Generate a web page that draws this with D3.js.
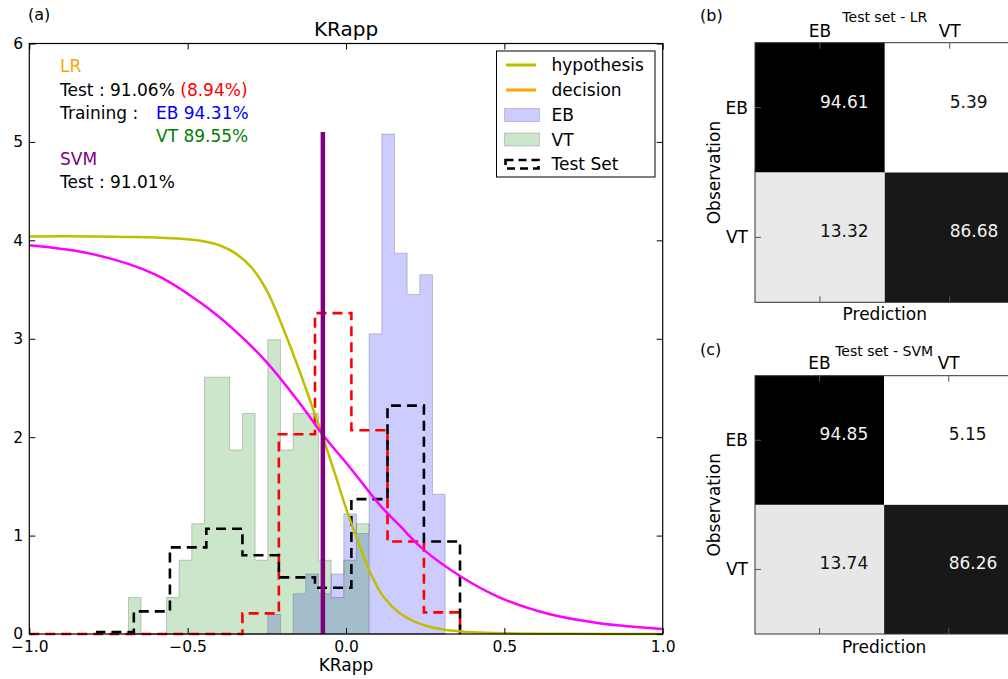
<!DOCTYPE html>
<html><head><meta charset="utf-8">
<script src="https://cdn.jsdelivr.net/npm/d3@7"></script>
<style>body{margin:0;background:#fff} svg{display:block} text{font-family:"DejaVu Sans",sans-serif}</style>
</head><body><svg id="c" width="1008" height="679"></svg>
<script>
// ---------- data ----------
const histEdges = [-0.687,-0.647,-0.607,-0.567,-0.527,-0.487,-0.447,-0.407,-0.367,-0.327,-0.287,-0.247,-0.207,-0.167,-0.127,-0.087,-0.047,-0.007,0.033,0.073,0.113,0.153,0.193,0.233,0.273,0.313];
const ebDensity = [0,0,0,0,0,0,0,0,0,0,0,0.20,0,0.41,0.61,0.41,0.61,1.22,1.02,3.05,5.08,3.87,3.45,3.65,1.42];
const vtDensity = [0.37,0,0,0.37,0.75,1.12,2.61,2.61,1.87,2.24,0.75,2.99,1.87,2.24,2.24,0.75,0.37,0.75,1.12,0,0,0,0,0,0];
const testEdges = [-0.785,-0.670,-0.556,-0.441,-0.327,-0.212,-0.098,0.017,0.131,0.246,0.360];
const testSetDensity = [0.02,0.23,0.88,1.07,0.80,0.575,0.47,1.37,2.32,0.94];
const testRedDensity = [0,0,0,0,0.21,2.03,3.26,2.07,0.94,0.22];
const redStartX = -1.0;
const hypX = [-1.0,-0.8,-0.7,-0.6,-0.5,-0.45,-0.4,-0.35,-0.3,-0.25,-0.2,-0.15,-0.1,-0.073,-0.04,0.0,0.04,0.08,0.12,0.17,0.22,0.28,0.38,0.5,0.7,1.0];
const hypY = [4.04,4.04,4.035,4.03,4.01,3.99,3.95,3.87,3.73,3.49,3.12,2.70,2.25,2.0,1.68,1.28,0.92,0.60,0.37,0.21,0.12,0.06,0.02,0.008,0.002,0.0];
const svmX = [-1.0,-0.8,-0.6,-0.461,-0.35,-0.25,-0.145,-0.072,0.013,0.107,0.17,0.244,0.36,0.486,0.644,0.8,1.0];
const svmY = [3.95,3.86,3.65,3.37,3.08,2.76,2.34,2.02,1.69,1.31,1.10,0.86,0.59,0.37,0.20,0.11,0.05];
const svmThreshold = -0.073, svmLineTop = 5.1;
const decisionX = -0.073, decisionTop = 5.1;
const xTicks = [-1,-0.5,0,0.5,1];
const yTicks = [0,1,2,3,4,5,6];
const legendLabels = ["hypothesis","decision","EB","VT","Test Set"];
const classes = ["EB","VT"];
const lrMatrix = [[94.61,5.39],[13.32,86.68]];
const svmMatrix = [[94.85,5.15],[13.74,86.26]];

// ---------- main chart ----------
const svg = d3.select("#c");
const X0=29.3, X1=662.7, Y0=634, Y1=43.5;
const x = d3.scaleLinear([-1,1],[X0,X1]);
const y = d3.scaleLinear([0,6],[Y0,Y1]);
const g = svg.append("g");

function stepPts(edges, vals, startX){
  const pts=[];
  if(startX!==undefined) pts.push([startX,0]);
  pts.push([edges[0],0]);
  vals.forEach((v,i)=>{pts.push([edges[i],v]);pts.push([edges[i+1],v]);});
  pts.push([edges[edges.length-1],0]);
  return pts;
}
const line = d3.line().x(d=>x(d[0])).y(d=>y(d[1]));

g.append("path").attr("d",line(stepPts(histEdges,ebDensity))+"Z")
 .attr("fill","rgba(0,0,255,0.2)").attr("stroke","rgba(0,0,0,0.2)").attr("stroke-width",1);
g.append("path").attr("d",line(stepPts(histEdges,vtDensity))+"Z")
 .attr("fill","rgba(0,128,0,0.2)").attr("stroke","rgba(0,0,0,0.2)").attr("stroke-width",1);

g.append("path").attr("d",line(stepPts(testEdges,testRedDensity,redStartX)))
 .attr("fill","none").attr("stroke","#ff0000").attr("stroke-width",2.6).attr("stroke-dasharray","10,6");
g.append("path").attr("d",line(stepPts(testEdges,testSetDensity)))
 .attr("fill","none").attr("stroke","#000").attr("stroke-width",2.6).attr("stroke-dasharray","10,6");

const curve = d3.line().x(d=>x(d[0])).y(d=>y(d[1])).curve(d3.curveCatmullRom.alpha(0.5));
g.append("path").attr("d",curve(hypX.map((v,i)=>[v,hypY[i]])))
 .attr("fill","none").attr("stroke","#bfbf00").attr("stroke-width",2.5);
g.append("path").attr("d",curve(svmX.map((v,i)=>[v,svmY[i]])))
 .attr("fill","none").attr("stroke","#ff00ff").attr("stroke-width",2.5);
g.append("line").attr("x1",x(decisionX)).attr("x2",x(decisionX)).attr("y1",y(0)).attr("y2",y(decisionTop))
 .attr("stroke","orange").attr("stroke-width",3);
g.append("line").attr("x1",x(svmThreshold)).attr("x2",x(svmThreshold)).attr("y1",y(0)).attr("y2",y(svmLineTop))
 .attr("stroke","#800080").attr("stroke-width",4.5);

// axes
function styleAxis(sel){sel.select(".domain").remove();sel.selectAll("line").attr("stroke","#000");sel.selectAll("text").attr("font-family","DejaVu Sans").attr("fill","#000");}
svg.append("g").attr("transform",`translate(0,${Y0})`)
  .call(d3.axisBottom(x).tickValues(xTicks).tickFormat(d3.format(".1f")).tickSizeInner(-6).tickSizeOuter(0).tickPadding(7))
  .call(styleAxis).selectAll("text").attr("font-size",15.5);
svg.append("g").attr("transform",`translate(0,${Y1})`)
  .call(d3.axisTop(x).tickValues(xTicks).tickFormat("").tickSizeInner(-6).tickSizeOuter(0)).call(styleAxis);
svg.append("g").attr("transform",`translate(${X0},0)`)
  .call(d3.axisLeft(y).tickValues(yTicks).tickFormat(d3.format("d")).tickSizeInner(-6).tickSizeOuter(0).tickPadding(6.3))
  .call(styleAxis).selectAll("text").attr("font-size",15.5);
svg.append("g").attr("transform",`translate(${X1},0)`)
  .call(d3.axisRight(y).tickValues(yTicks).tickFormat("").tickSizeInner(-6).tickSizeOuter(0)).call(styleAxis);
svg.append("rect").attr("x",X0).attr("y",Y1).attr("width",X1-X0).attr("height",Y0-Y1)
  .attr("fill","none").attr("stroke","#000").attr("stroke-width",1.2);

svg.append("text").attr("x",(X0+X1)/2).attr("y",36).attr("text-anchor","middle").attr("font-size",20).text("KRapp");
svg.append("text").attr("x",(X0+X1)/2).attr("y",671).attr("text-anchor","middle").attr("font-size",17).text("KRapp");
svg.append("text").attr("x",28).attr("y",20).attr("font-size",16).text("(a)");

// annotations
const ann = svg.append("g").attr("font-size",17);
ann.append("text").attr("x",60).attr("y",72).attr("fill","#ffa500").text("LR");
const t1 = ann.append("text").attr("x",60).attr("y",95.5);
t1.append("tspan").attr("fill","#000").text("Test : 91.06% ");
t1.append("tspan").attr("fill","#ff0000").text("(8.94%)");
ann.append("text").attr("x",60).attr("y",119).attr("fill","#000").text("Training :");
ann.append("text").attr("x",156).attr("y",119).attr("fill","#0000ff").text("EB 94.31%");
ann.append("text").attr("x",156).attr("y",142).attr("fill","#008000").text("VT 89.55%");
ann.append("text").attr("x",60).attr("y",165).attr("fill","#800080").text("SVM");
ann.append("text").attr("x",60).attr("y",188).attr("fill","#000").text("Test : 91.01%");

// legend
const lg = svg.append("g");
lg.append("rect").attr("x",496.5).attr("y",51).attr("width",158.5).attr("height",126).attr("fill","#fff").attr("stroke","#000").attr("stroke-width",1);
const lgY = [65,90,115,139.5,164];
lgY.forEach((cy,i)=>{
  if(i===0||i===1){
    lg.append("line").attr("x1",506).attr("x2",536).attr("y1",cy).attr("y2",cy)
      .attr("stroke",i===0?"#bfbf00":"orange").attr("stroke-width",3);
  } else if(i===2||i===3){
    lg.append("rect").attr("x",504.5).attr("y",cy-6.5).attr("width",35).attr("height",13)
      .attr("fill",i===2?"rgba(0,0,255,0.2)":"rgba(0,128,0,0.2)").attr("stroke","rgba(0,0,0,0.18)");
  } else {
    lg.append("rect").attr("x",505.5).attr("y",cy-4).attr("width",33).attr("height",8.5)
      .attr("fill","none").attr("stroke","#000").attr("stroke-width",2.6).attr("stroke-dasharray","8,5");
  }
  lg.append("text").attr("x",551.5).attr("y",cy+6).attr("font-size",17).text(legendLabels[i]);
});

// ---------- confusion matrices ----------
function matrix(data, title, label, top, bottom, labelY, titleY, colY, predY){
  const left=755, size=(bottom-top)/2, right=left+2*size;
  const bx = d3.scaleBand().domain(classes).range([left,right]);
  const by = d3.scaleBand().domain(classes).range([top,bottom]);
  const flat = data.flat();
  const col = d3.scaleLinear().domain([d3.min(flat),d3.max(flat)]).range(["#ffffff","#000000"]);
  const mg = svg.append("g");
  data.forEach((row,i)=>row.forEach((v,j)=>{
    mg.append("rect").attr("x",bx(classes[j])).attr("y",by(classes[i])).attr("width",bx.bandwidth()).attr("height",by.bandwidth()).attr("fill",col(v));
    mg.append("text").attr("x",bx(classes[j])+bx.bandwidth()/2).attr("y",by(classes[i])+by.bandwidth()/2)
      .attr("font-size",17).attr("fill",v>50?"#f2f2f2":"#111").text(v.toFixed(2));
  }));
  mg.append("rect").attr("x",left).attr("y",top).attr("width",right-left).attr("height",bottom-top)
    .attr("fill","none").attr("stroke","#333").attr("stroke-width",1);
  classes.forEach(c=>{
    const cx=bx(c)+bx.bandwidth()/2, cy=by(c)+by.bandwidth()/2;
    mg.append("line").attr("x1",cx).attr("x2",cx).attr("y1",top).attr("y2",top+6).attr("stroke","#555");
    mg.append("line").attr("x1",cx).attr("x2",cx).attr("y1",bottom).attr("y2",bottom-6).attr("stroke","#555");
    mg.append("line").attr("x1",left).attr("x2",left+6).attr("y1",cy).attr("y2",cy).attr("stroke","#555");
    mg.append("text").attr("x",cx).attr("y",colY).attr("text-anchor","middle").attr("font-size",17).text(c);
    mg.append("text").attr("x",left-7).attr("y",cy+6).attr("text-anchor","end").attr("font-size",17).text(c);
  });
  mg.append("text").attr("x",(left+right)/2).attr("y",titleY).attr("text-anchor","middle").attr("font-size",14).text(title);
  mg.append("text").attr("x",700).attr("y",labelY).attr("font-size",16).text(label);
  mg.append("text").attr("x",(left+right)/2).attr("y",predY).attr("text-anchor","middle").attr("font-size",17).text("Prediction");
  mg.append("text").attr("transform",`translate(720,${(top+bottom)/2}) rotate(-90)`).attr("text-anchor","middle").attr("font-size",17).text("Observation");
}
matrix(lrMatrix,"Test set - LR","(b)",42.7,302.3,21,22,36.7,320);
matrix(svmMatrix,"Test set - SVM","(c)",375.7,634,355,356,369.3,652.7);
</script></body></html>
